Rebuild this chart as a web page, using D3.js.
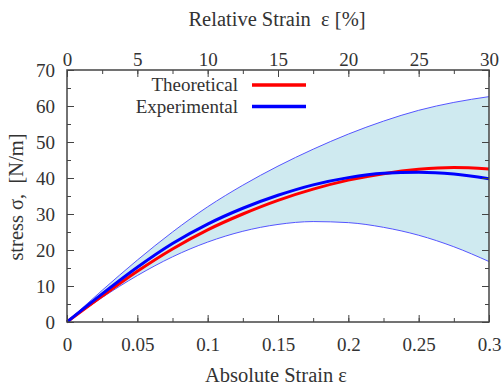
<!DOCTYPE html>
<html>
<head>
<meta charset="utf-8">
<script src="https://cdn.jsdelivr.net/npm/d3@7"></script>
<style>
  body { margin: 0; background: #fff; }
  text { font-family: "Liberation Serif", "Times New Roman", serif; fill: #333; }
  .title { white-space: pre; }
</style>
</head>
<body>
<div id="chart"></div>
<script>
// values
var strain = [0, 0.025, 0.05, 0.075, 0.1, 0.125, 0.15, 0.175, 0.2, 0.225, 0.25, 0.275, 0.3];
var theoretical = [0, 7.2, 14.1, 20.3, 25.6, 30.0, 33.8, 36.9, 39.4, 41.2, 42.4, 42.9, 42.5];
var experimental = [0, 7.8, 15.2, 21.8, 27.2, 31.6, 35.2, 38.1, 40.1, 41.3, 41.6, 41.1, 39.8];
var upperBound = [0, 8.8, 17.2, 25.0, 32.0, 38.0, 43.3, 48.0, 52.2, 55.8, 58.8, 61.0, 62.6];
var lowerBound = [0, 6.8, 12.9, 18.1, 22.2, 25.2, 27.1, 27.9, 27.6, 26.3, 24.1, 20.9, 16.8];

var bottomTicks = [0, 0.05, 0.1, 0.15, 0.2, 0.25, 0.3];
var topTicks = [0, 5, 10, 15, 20, 25, 30];
var yTicks = [0, 10, 20, 30, 40, 50, 60, 70];

// set the dimensions and margins of the graph
var margin = {top: 70, right: 15, bottom: 66, left: 67},
    width = 504 - margin.left - margin.right,
    height = 388 - margin.top - margin.bottom;

var svg = d3.select("#chart")
  .append("svg")
    .attr("width", 504)
    .attr("height", 388)
  .append("g")
    .attr("transform", "translate(" + margin.left + "," + margin.top + ")");

var x = d3.scaleLinear().domain([0, 0.3]).range([0, width]);
var xTop = d3.scaleLinear().domain([0, 30]).range([0, width]);
var y = d3.scaleLinear().domain([0, 70]).range([height, 0]);

var rows = strain.map(function(s, i) {
  return {x: s, t: theoretical[i], e: experimental[i], hi: upperBound[i], lo: lowerBound[i]};
});

// shaded band between bounds
svg.append("path")
  .datum(rows)
  .attr("fill", "#cfeaf0")
  .attr("d", d3.area().curve(d3.curveMonotoneX)
    .x(function(d) { return x(d.x); })
    .y0(function(d) { return y(d.lo); })
    .y1(function(d) { return y(d.hi); }));

["hi", "lo"].forEach(function(k) {
  svg.append("path")
    .datum(rows)
    .attr("fill", "none")
    .attr("stroke", "#5555ff")
    .attr("stroke-width", 1)
    .attr("d", d3.line().curve(d3.curveMonotoneX)
      .x(function(d) { return x(d.x); })
      .y(function(d) { return y(d[k]); }));
});

// main curves
svg.append("path")
  .datum(rows)
  .attr("fill", "none")
  .attr("stroke", "#ff0000")
  .attr("stroke-width", 3)
  .attr("d", d3.line().curve(d3.curveMonotoneX)
    .x(function(d) { return x(d.x); })
    .y(function(d) { return y(d.t); }));

svg.append("path")
  .datum(rows)
  .attr("fill", "none")
  .attr("stroke", "#0000ff")
  .attr("stroke-width", 3)
  .attr("d", d3.line().curve(d3.curveMonotoneX)
    .x(function(d) { return x(d.x); })
    .y(function(d) { return y(d.e); }));

// axes with inward ticks
function styleAxis(g) {
  g.select(".domain").remove();
  g.selectAll("line").attr("stroke", "#444").attr("stroke-width", 1);
  g.selectAll("text").attr("font-size", 19).attr("fill", "#333")
    .style("font-family", '"Liberation Serif", serif');
}

var minorX = d3.range(0, 13).map(function(i) { return i * 0.025; });
var minorY = d3.range(0, 15).map(function(i) { return i * 5; });

svg.append("g")
  .attr("transform", "translate(0," + height + ")")
  .call(d3.axisBottom(x).tickValues(minorX).tickSize(-4).tickFormat(""))
  .call(styleAxis);
svg.append("g")
  .attr("transform", "translate(0," + height + ")")
  .call(d3.axisBottom(x).tickValues(bottomTicks).tickSize(-7).tickPadding(16)
    .tickFormat(function(d) { return d3.format("")(+d.toFixed(2)); }))
  .call(styleAxis);

svg.append("g")
  .call(d3.axisTop(x).tickValues(minorX).tickSize(-4).tickFormat(""))
  .call(styleAxis);
svg.append("g")
  .call(d3.axisTop(xTop).tickValues(topTicks).tickSize(-7).tickPadding(4))
  .call(styleAxis);

svg.append("g")
  .call(d3.axisLeft(y).tickValues(minorY).tickSize(-4).tickFormat(""))
  .call(styleAxis);
svg.append("g")
  .call(d3.axisLeft(y).tickValues(yTicks).tickSize(-7).tickPadding(12))
  .call(styleAxis);

svg.append("g")
  .attr("transform", "translate(" + width + ",0)")
  .call(d3.axisRight(y).tickValues(minorY).tickSize(-4).tickFormat(""))
  .call(styleAxis);
svg.append("g")
  .attr("transform", "translate(" + width + ",0)")
  .call(d3.axisRight(y).tickValues(yTicks).tickSize(-7).tickFormat(""))
  .call(styleAxis);

// frame
svg.append("rect")
  .attr("width", width)
  .attr("height", height)
  .attr("fill", "none")
  .attr("stroke", "#444")
  .attr("stroke-width", 1.5);

// titles
svg.append("text")
  .attr("class", "title")
  .attr("x", 210).attr("y", -44)
  .attr("text-anchor", "middle")
  .attr("font-size", 20.5)
  .text("Relative Strain  \u03b5 [%]");

svg.append("text")
  .attr("class", "title")
  .attr("x", 209).attr("y", height + 60)
  .attr("text-anchor", "middle")
  .attr("font-size", 20.5)
  .text("Absolute Strain \u03b5");

svg.append("text")
  .attr("class", "title")
  .attr("transform", "translate(-44," + 127 + ") rotate(-90)")
  .attr("text-anchor", "middle")
  .attr("font-size", 20.5)
  .text("stress \u03c3,  [N/m]");

// legend
var legend = [
  {label: "Theoretical", color: "#ff0000"},
  {label: "Experimental", color: "#0000ff"}
];
legend.forEach(function(d, i) {
  var ly = 15 + i * 21.5;
  svg.append("text")
    .attr("x", 171).attr("y", ly + 6)
    .attr("text-anchor", "end")
    .attr("font-size", 19)
    .text(d.label);
  svg.append("line")
    .attr("x1", 185).attr("x2", 239)
    .attr("y1", ly).attr("y2", ly)
    .attr("stroke", d.color)
    .attr("stroke-width", 3.5);
});
</script>
</body>
</html>
